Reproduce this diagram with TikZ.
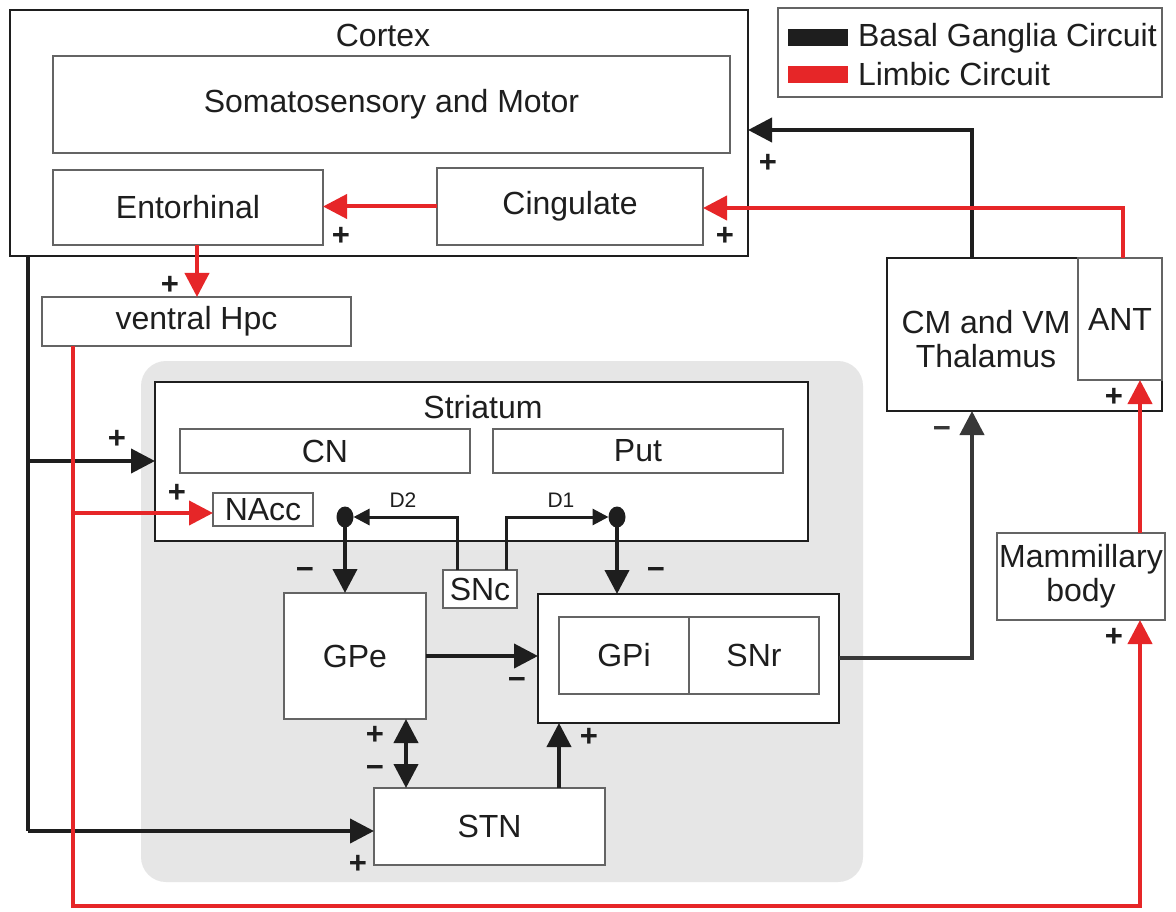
\documentclass[tikz,border=0pt]{standalone}
\usepackage{fontspec}
\setmainfont{Liberation Sans}
\usetikzlibrary{arrows.meta,calc,shapes.geometric}
\definecolor{limbic}{RGB}{230,38,40}
\definecolor{bggray}{RGB}{230,230,230}
\definecolor{edge}{RGB}{100,100,100}
\definecolor{ink}{RGB}{30,30,30}
\begin{document}
\begin{tikzpicture}[x=1pt,y=-1pt,
  every node/.style={inner sep=0pt, outer sep=0pt},
  thinbox/.style={draw=edge, line width=1.5pt, fill=white, anchor=north west, font=\fontsize{32}{34}\selectfont, text=ink, align=center},
  thickbox/.style={draw=ink, line width=2.6pt, fill=white, anchor=north west},
  lbl/.style={font=\fontsize{32}{34}\selectfont, text=ink},
  sm/.style={font=\fontsize{21}{24}\selectfont, text=ink},
  sgn/.style={font=\fontsize{31}{31}\selectfont\bfseries, text=ink},
  tip/.style={-{Triangle[length=24pt,width=24pt]}},
  bk/.style={line width=4pt, draw=ink, tip},
  rd/.style={line width=4pt, draw=limbic, tip},
  dk/.style={line width=4pt, draw=black!78, tip},
  da/.style={line width=3pt, draw=ink, -{Triangle[length=16pt,width=16pt]}}
]
\useasboundingbox (0,0) rectangle (1176,912);
\fill[white] (0,0) rectangle (1176,912);

% background panel
\node[fill=bggray, rounded corners=25pt, minimum width=722pt, minimum height=521pt, anchor=north west] (panel) at (141,361) {};

% legend
\node[draw=edge, line width=1.5pt, fill=white, minimum width=384pt, minimum height=89pt, anchor=north west] (legend) at (778,8) {};
\node[fill=ink, minimum width=60pt, minimum height=17pt, anchor=north west] (keyb) at (788,29) {};
\node[fill=limbic, minimum width=60pt, minimum height=17pt, anchor=north west] (keyr) at (788,66) {};
\node[lbl, anchor=west] (legb) at (858,38) {Basal Ganglia Circuit};
\node[lbl, anchor=west] (legr) at (858,74) {Limbic Circuit};

% cortex
\node[thickbox, minimum width=738pt, minimum height=246pt] (cortex) at (10,10) {};
\node[lbl] (cortexlbl) at (383,35) {Cortex};
\node[thinbox, minimum width=677pt, minimum height=97pt] (soma) at (53,56) {Somatosensory and Motor};
\node[thinbox, minimum width=270pt, minimum height=75pt] (ento) at (53,170) {Entorhinal};
\node[thinbox, minimum width=266pt, minimum height=77pt] (cing) at (437,168) {Cingulate};

% ventral hippocampus
\node[thinbox, minimum width=309pt, minimum height=49pt] (vhpc) at (42,297) {ventral Hpc};

% striatum
\node[thickbox, minimum width=653pt, minimum height=159pt] (str) at (155,382) {};
\node[lbl] (strlbl) at (483,407) {Striatum};
\node[thinbox, minimum width=290pt, minimum height=44pt] (cn) at (180,429) {CN};
\node[thinbox, minimum width=290pt, minimum height=44pt] (put) at (493,429) {Put};
\node[thinbox, minimum width=100pt, minimum height=33pt] (nacc) at (213,493) {NAcc};
\node[fill=ink, ellipse, minimum width=17pt, minimum height=21pt] (dotL) at (345,517) {};
\node[fill=ink, ellipse, minimum width=17pt, minimum height=21pt] (dotR) at (617,517) {};
\node[sm] (d2lbl) at (403,500) {D2};
\node[sm] (d1lbl) at (561,500) {D1};

% SNc
\node[thinbox, minimum width=74pt, minimum height=38pt] (snc) at (443,570) {SNc};

% GPe, GPi/SNr, STN
\node[thinbox, minimum width=142pt, minimum height=126pt] (gpe) at (284,593) {GPe};
\node[thickbox, minimum width=301pt, minimum height=129pt] (gpibox) at (538,594) {};
\node[thinbox, minimum width=130pt, minimum height=77pt] (gpi) at (559,617) {GPi};
\node[thinbox, minimum width=130pt, minimum height=77pt] (snr) at (689,617) {SNr};
\node[thinbox, minimum width=231pt, minimum height=77pt] (stn) at (374,788) {STN};

% thalamus
\node[thickbox, minimum width=275pt, minimum height=153pt] (thal) at (887,258) {};
\node[lbl, align=center] (thallbl) at (986,339) {CM and VM\\Thalamus};
\node[thinbox, minimum width=84pt, minimum height=122pt] (ant) at (1078,258) {ANT};
\node[thinbox, minimum width=168pt, minimum height=87pt] (mam) at (997,533) {Mammillary\\body};

% helper coordinates
\coordinate (c1) at (972,130);
\coordinate (c2) at (1123,208);
\coordinate (c3) at (197,0);
\coordinate (c4) at (28,831);
\coordinate (c5) at (28,461);
\coordinate (r1) at (73,906);
\coordinate (r2) at (1140,906);
\coordinate (r3) at (73,513);
\coordinate (d2) at (457,517);
\coordinate (d1) at (506,517);
\coordinate (c6) at (406,0);
\coordinate (c7) at (559,0);
\coordinate (c8) at (972,658);

% connectors: basal ganglia
\draw[bk] (thal.north -| c1) -- (c1) -- (cortex.east |- c1);
\draw[line width=4pt, draw=ink] (cortex.south -| c4) -- (c4);
\draw[bk] (c4) -- (stn.west |- c4);
\draw[bk] (c5) -- (str.west |- c5);
\draw[da] (snc.north -| d2) -- (d2) -- (dotL.east);
\draw[da] (snc.north -| d1) -- (d1) -- (dotR.west);
\draw[bk] (dotL.center) -- (gpe.north -| dotL);
\draw[bk] (dotR.center) -- (gpibox.north -| dotR);
\draw[bk] (gpe.east) -- (gpibox.west |- gpe.east);
\draw[bk, {Triangle[length=24pt,width=24pt]}-{Triangle[length=24pt,width=24pt]}] (gpe.south -| c6) -- (stn.north -| c6);
\draw[bk] (stn.north -| c7) -- (gpibox.south -| c7);
\draw[dk] (gpibox.east |- c8) -- (c8) -- (thal.south -| c8);

% connectors: limbic
\draw[rd] (ant.north -| c2) -- (c2) -- (cing.east |- c2);
\draw[rd] (cing.west) -- (ento.east |- cing.west);
\draw[rd] (ento.south -| c3) -- (vhpc.north -| c3);
\draw[rd] (vhpc.south -| r1) -- (r1) -- (r2) -- (mam.south -| r2);
\draw[rd] (r3) -- (nacc.west |- r3);
\draw[rd] (mam.north -| r2) -- (ant.south -| r2);

% signs
\node[sgn] (s1) at (768,163) {+};
\node[sgn] (s2) at (341,236) {+};
\node[sgn] (s3) at (725,236) {+};
\node[sgn] (s4) at (170,285) {+};
\node[sgn] (s5) at (117,439) {+};
\node[sgn] (s6) at (177,493) {+};
\node[sgn] (s7) at (305,573) {−};
\node[sgn] (s8) at (656,573) {−};
\node[sgn] (s9) at (517,683) {−};
\node[sgn] (s10) at (375,735) {+};
\node[sgn] (s11) at (375,771) {−};
\node[sgn] (s12) at (589,737) {+};
\node[sgn] (s13) at (358,864) {+};
\node[sgn, text=black!78] (s14) at (942,432) {−};
\node[sgn] (s15) at (1114,397) {+};
\node[sgn] (s16) at (1114,637) {+};
\end{tikzpicture}
\end{document}
